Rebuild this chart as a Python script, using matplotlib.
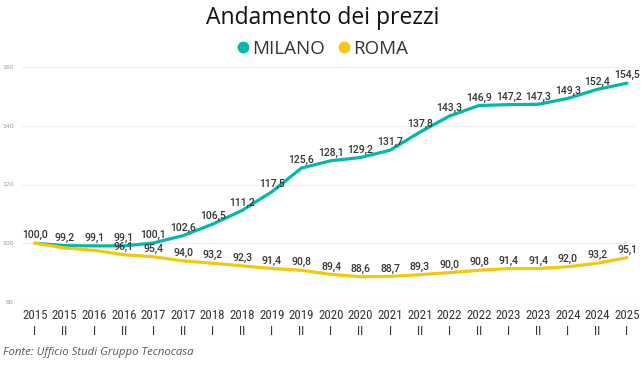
import matplotlib
matplotlib.use("Agg")
import matplotlib.pyplot as plt
from matplotlib.lines import Line2D
import logging
logging.getLogger("matplotlib.font_manager").setLevel(logging.ERROR)

years = ["2015", "2015", "2016", "2016", "2017", "2017", "2018", "2018", "2019", "2019", "2020",
         "2020", "2021", "2021", "2022", "2022", "2023", "2023", "2024", "2024", "2025"]
halves = ["I", "II", "I", "II", "I", "II", "I", "II", "I", "II", "I",
          "II", "I", "II", "I", "II", "I", "II", "I", "II", "I"]
milano = [100.0, 99.2, 99.1, 99.1, 100.1, 102.6, 106.5, 111.2, 117.5, 125.6, 128.1,
          129.2, 131.7, 137.8, 143.3, 146.9, 147.2, 147.3, 149.3, 152.4, 154.5]
roma = [100.0, 98.4, 97.6, 96.1, 95.4, 94.0, 93.2, 92.3, 91.4, 90.8, 89.4,
        88.6, 88.7, 89.3, 90.0, 90.8, 91.4, 91.4, 92.0, 93.2, 95.1]
yticks = [80, 100, 120, 140, 160]

C_MI = "#01B8AA"
C_RO = "#F2C80F"
UI = ["Selawik", "Open Sans"]

fig = plt.figure(figsize=(6.43, 3.67), dpi=100)
W, H = 643, 367
ax = fig.add_axes([22 / W, 1 - 302 / H, (635 - 22) / W, (302 - 67) / H])

x = list(range(len(years)))
ax.plot(x, milano, color=C_MI, lw=2.3, solid_capstyle="round", zorder=3)
ax.plot(x, roma, color=C_RO, lw=2.3, solid_capstyle="round", zorder=3)

ax.set_xlim(-0.44, 20.27)
ax.set_ylim(80, 160)
ax.set_yticks(yticks)
ax.set_yticklabels([str(v) for v in yticks], fontsize=4.5, color="#999999")
ax.tick_params(axis="y", length=0, pad=6)
ax.grid(axis="y", color="#eeeeee", lw=0.8)
for s in ax.spines.values():
    s.set_visible(False)
ax.set_xticks(x)
ax.set_xticklabels([f"{y}\n{h}" for y, h in zip(years, halves)], fontsize=9.3,
                   color="#333333", linespacing=1.3,
                   family=["Roboto Condensed", "Open Sans"])
ax.tick_params(axis="x", length=0, pad=5)

def fmt(v):
    return f"{v:.1f}".replace(".", ",")

lab_kw = dict(ha="center", va="bottom", fontsize=7.5, color="#333333", weight="medium",
              family="Roboto", clip_on=False, zorder=4)
for i in x:
    ax.annotate(fmt(milano[i]), (i, milano[i]), xytext=(0, 2),
                textcoords="offset points", **lab_kw)
    if abs(milano[i] - roma[i]) >= 2.5:
        ax.annotate(fmt(roma[i]), (i, roma[i]), xytext=(0, 2),
                    textcoords="offset points", **lab_kw)

fig.text(323 / W, 1 - 18 / H, "Andamento dei prezzi", ha="center", va="center",
         fontsize=16.5, color="#111111", family=UI)

handles = [Line2D([], [], marker="o", ls="none", color=C_MI, markersize=7.5),
           Line2D([], [], marker="o", ls="none", color=C_RO, markersize=7.5)]
fig.legend(handles, ["MILANO", "ROMA"], loc="center", bbox_to_anchor=(321 / W, 1 - 49 / H),
           ncol=2, frameon=False, handletextpad=0.0, columnspacing=0.5,
           prop={"family": UI, "size": 13.5}, labelcolor="#333333",
           handlelength=1.0)

fig.text(3 / W, 1 - 352 / H, "Fonte: Ufficio Studi Gruppo Tecnocasa", ha="left", va="center",
         fontsize=8.2, style="italic", color="#555555", family=UI)

fig.savefig("out.png", dpi=100)
